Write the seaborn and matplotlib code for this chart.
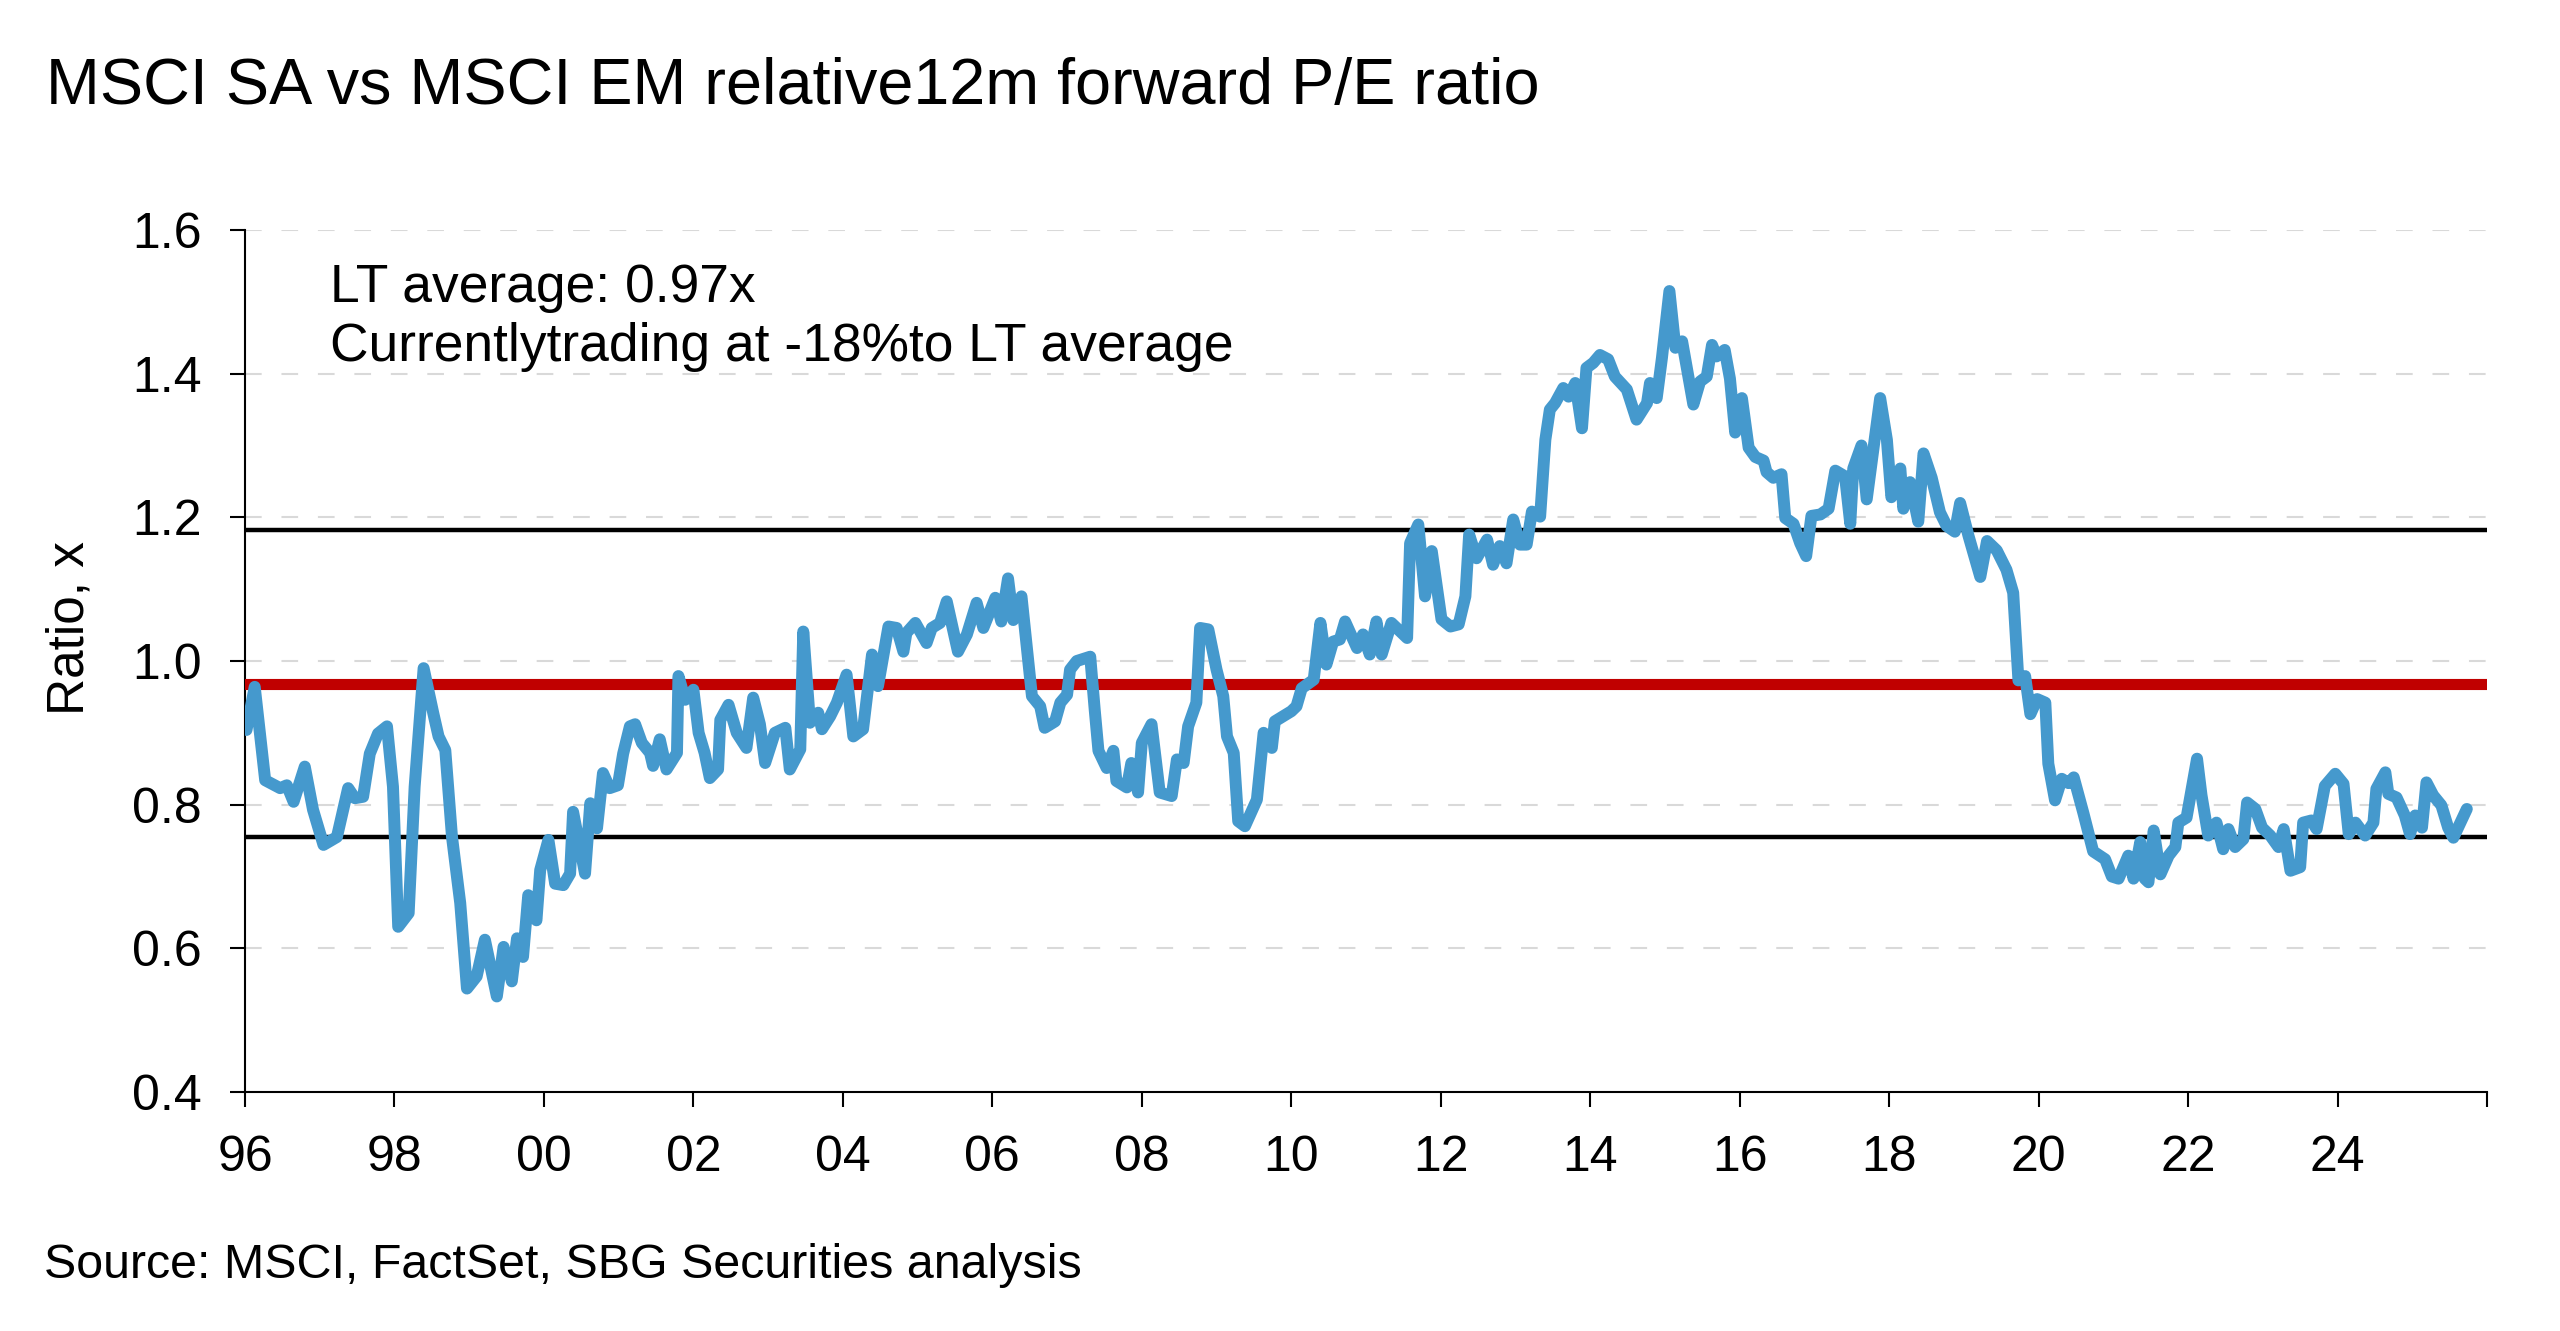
import matplotlib
matplotlib.use("Agg")
import matplotlib.pyplot as plt
import pandas as pd
import seaborn as sns

# ---------------- data ----------------
title = "MSCI SA vs MSCI EM relative12m forward P/E ratio"
note_lines = ["LT average: 0.97x", "Currentlytrading at -18%to LT average"]
source_text = "Source: MSCI, FactSet, SBG Securities analysis"
y_label = "Ratio, x"

year = [
    1996.02, 1996.13, 1996.27, 1996.47, 1996.56, 1996.65, 1996.80, 1996.91,
    1997.05, 1997.23, 1997.38, 1997.47, 1997.58, 1997.67, 1997.78, 1997.90,
    1997.98, 1998.05, 1998.19, 1998.27, 1998.39, 1998.52, 1998.59, 1998.68,
    1998.77, 1998.88, 1998.97, 1999.10, 1999.21, 1999.37, 1999.46, 1999.57,
    1999.64, 1999.72, 1999.79, 1999.90, 1999.95, 2000.06, 2000.15, 2000.26,
    2000.35, 2000.39, 2000.55, 2000.62, 2000.71, 2000.79, 2000.88, 2000.99,
    2001.06, 2001.15, 2001.22, 2001.31, 2001.42, 2001.46, 2001.55, 2001.64,
    2001.78, 2001.80, 2001.89, 2002.00, 2002.07, 2002.15, 2002.22, 2002.33,
    2002.36, 2002.47, 2002.58, 2002.71, 2002.80, 2002.89, 2002.96, 2003.09,
    2003.23, 2003.29, 2003.43, 2003.47, 2003.56, 2003.67, 2003.72, 2003.83,
    2003.92, 2004.05, 2004.14, 2004.27, 2004.39, 2004.47, 2004.61, 2004.72,
    2004.81, 2004.85, 2004.97, 2005.12, 2005.19, 2005.30, 2005.39, 2005.54,
    2005.66, 2005.79, 2005.88, 2006.04, 2006.12, 2006.21, 2006.28, 2006.39,
    2006.53, 2006.64, 2006.70, 2006.84, 2006.91, 2007.00, 2007.04, 2007.13,
    2007.31, 2007.37, 2007.42, 2007.53, 2007.62, 2007.66, 2007.80, 2007.86,
    2007.95, 2008.00, 2008.13, 2008.24, 2008.40, 2008.47, 2008.56, 2008.62,
    2008.73, 2008.78, 2008.89, 2009.00, 2009.09, 2009.14, 2009.23, 2009.29,
    2009.38, 2009.54, 2009.63, 2009.74, 2009.78, 2009.89, 2010.00, 2010.07,
    2010.14, 2010.30, 2010.39, 2010.47, 2010.56, 2010.65, 2010.72, 2010.88,
    2010.96, 2011.05, 2011.14, 2011.21, 2011.34, 2011.55, 2011.59, 2011.70,
    2011.79, 2011.88, 2012.01, 2012.13, 2012.24, 2012.33, 2012.38, 2012.48,
    2012.62, 2012.70, 2012.79, 2012.88, 2012.97, 2013.06, 2013.15, 2013.22,
    2013.33, 2013.40, 2013.46, 2013.53, 2013.64, 2013.71, 2013.80, 2013.89,
    2013.95, 2014.04, 2014.13, 2014.24, 2014.33, 2014.49, 2014.62, 2014.76,
    2014.80, 2014.89, 2014.96, 2015.06, 2015.14, 2015.23, 2015.38, 2015.47,
    2015.56, 2015.63, 2015.69, 2015.80, 2015.87, 2015.94, 2016.03, 2016.12,
    2016.21, 2016.32, 2016.36, 2016.45, 2016.56, 2016.61, 2016.72, 2016.81,
    2016.89, 2016.96, 2017.08, 2017.19, 2017.28, 2017.41, 2017.48, 2017.52,
    2017.63, 2017.70, 2017.88, 2017.97, 2018.03, 2018.15, 2018.19, 2018.28,
    2018.39, 2018.46, 2018.57, 2018.68, 2018.77, 2018.88, 2018.95, 2019.06,
    2019.22, 2019.31, 2019.44, 2019.57, 2019.66, 2019.73, 2019.82, 2019.89,
    2019.98, 2020.09, 2020.13, 2020.22, 2020.31, 2020.40, 2020.47, 2020.60,
    2020.73, 2020.89, 2020.98, 2021.07, 2021.20, 2021.27, 2021.36, 2021.42,
    2021.47, 2021.54, 2021.63, 2021.74, 2021.83, 2021.87, 2021.98, 2022.12,
    2022.18, 2022.27, 2022.38, 2022.47, 2022.54, 2022.63, 2022.74, 2022.79,
    2022.90, 2022.99, 2023.10, 2023.21, 2023.28, 2023.37, 2023.50, 2023.54,
    2023.65, 2023.72, 2023.83, 2023.97, 2024.08, 2024.15, 2024.24, 2024.37,
    2024.48, 2024.52, 2024.64, 2024.68, 2024.79, 2024.90, 2024.97, 2025.04,
    2025.13, 2025.19, 2025.28, 2025.39, 2025.48, 2025.55, 2025.73,
]

ratio = [
    0.904, 0.964, 0.834, 0.823, 0.827, 0.804, 0.853, 0.793,
    0.744, 0.755, 0.823, 0.809, 0.811, 0.871, 0.899, 0.909,
    0.825, 0.630, 0.649, 0.825, 0.990, 0.927, 0.895, 0.876,
    0.755, 0.663, 0.544, 0.561, 0.612, 0.533, 0.602, 0.554,
    0.614, 0.588, 0.674, 0.639, 0.709, 0.751, 0.690, 0.688,
    0.704, 0.790, 0.704, 0.802, 0.767, 0.844, 0.823, 0.827,
    0.871, 0.909, 0.912, 0.886, 0.872, 0.854, 0.891, 0.849,
    0.872, 0.979, 0.946, 0.960, 0.900, 0.872, 0.837, 0.849,
    0.918, 0.939, 0.900, 0.879, 0.949, 0.912, 0.858, 0.900,
    0.907, 0.849, 0.877, 1.041, 0.914, 0.928, 0.905, 0.923,
    0.942, 0.981, 0.895, 0.905, 1.009, 0.965, 1.048, 1.046,
    1.013, 1.039, 1.053, 1.025, 1.046, 1.053, 1.083, 1.013,
    1.037, 1.081, 1.046, 1.088, 1.055, 1.115, 1.057, 1.090,
    0.951, 0.937, 0.907, 0.916, 0.942, 0.953, 0.988, 1.000,
    1.006, 0.932, 0.875, 0.851, 0.875, 0.833, 0.824, 0.858,
    0.817, 0.886, 0.912, 0.817, 0.812, 0.863, 0.858, 0.909,
    0.942, 1.046, 1.044, 0.988, 0.951, 0.895, 0.872, 0.777,
    0.770, 0.807, 0.900, 0.879, 0.916, 0.923, 0.930, 0.937,
    0.962, 0.974, 1.053, 0.995, 1.027, 1.030, 1.055, 1.018,
    1.037, 1.009, 1.055, 1.009, 1.053, 1.032, 1.164, 1.190,
    1.090, 1.153, 1.058, 1.048, 1.051, 1.090, 1.176, 1.143,
    1.169, 1.134, 1.160, 1.136, 1.197, 1.162, 1.162, 1.208,
    1.201, 1.308, 1.350, 1.359, 1.380, 1.368, 1.387, 1.324,
    1.408, 1.415, 1.426, 1.420, 1.396, 1.378, 1.336, 1.359,
    1.387, 1.366, 1.422, 1.515, 1.436, 1.445, 1.357, 1.389,
    1.396, 1.440, 1.424, 1.433, 1.393, 1.318, 1.366, 1.297,
    1.284, 1.279, 1.263, 1.255, 1.260, 1.199, 1.191, 1.164,
    1.146, 1.202, 1.204, 1.212, 1.265, 1.257, 1.191, 1.268,
    1.300, 1.225, 1.366, 1.308, 1.228, 1.268, 1.212, 1.249,
    1.194, 1.289, 1.255, 1.207, 1.188, 1.180, 1.220, 1.175,
    1.117, 1.167, 1.154, 1.127, 1.095, 0.973, 0.979, 0.926,
    0.947, 0.942, 0.857, 0.806, 0.836, 0.830, 0.838, 0.788,
    0.735, 0.724, 0.700, 0.697, 0.729, 0.697, 0.748, 0.697,
    0.692, 0.764, 0.703, 0.729, 0.741, 0.775, 0.782, 0.864,
    0.813, 0.757, 0.775, 0.738, 0.766, 0.741, 0.752, 0.803,
    0.794, 0.768, 0.757, 0.741, 0.766, 0.708, 0.713, 0.775,
    0.778, 0.766, 0.826, 0.843, 0.829, 0.759, 0.775, 0.757,
    0.775, 0.822, 0.845, 0.815, 0.810, 0.785, 0.759, 0.785,
    0.768, 0.831, 0.813, 0.799, 0.768, 0.754, 0.794,
]

lt_average = 0.968
upper_band = 1.182
lower_band = 0.755

x_ticks = list(range(1996, 2027, 2))
x_tick_labels = ["96", "98", "00", "02", "04", "06", "08", "10", "12",
                 "14", "16", "18", "20", "22", "24", ""]
y_ticks = [0.4, 0.6, 0.8, 1.0, 1.2, 1.4, 1.6]
y_tick_labels = ["0.4", "0.6", "0.8", "1.0", "1.2", "1.4", "1.6"]

# ---------------- styling ----------------
sns.set_theme(style="white")
plt.rcParams["font.family"] = ["Liberation Sans", "DejaVu Sans"]
plt.rcParams["text.color"] = "black"
plt.rcParams["axes.labelcolor"] = "black"
plt.rcParams["xtick.color"] = "black"
plt.rcParams["ytick.color"] = "black"

W, H = 2560, 1331
fig = plt.figure(figsize=(W / 100, H / 100), dpi=100)
ax_left, ax_right, ax_top, ax_bottom = 245, 2487, 230, 1092
ax = fig.add_axes([ax_left / W, 1 - ax_bottom / H,
                   (ax_right - ax_left) / W, (ax_bottom - ax_top) / H])

df = pd.DataFrame({"year": year, "ratio": ratio})

blue = "#4599CD"
red = "#C00000"

ax.axhline(upper_band, color="black", linewidth=3.2, zorder=3)
ax.axhline(lower_band, color="black", linewidth=3.2, zorder=3)
ax.axhline(lt_average, color=red, linewidth=8.0, zorder=3,
           solid_capstyle="round")

n_before = len(ax.lines)
sns.lineplot(data=df, x="year", y="ratio", ax=ax, color=blue,
             linewidth=8.6, zorder=5, sort=False)
for ln in ax.lines[n_before:]:
    ln.set_linewidth(8.6)
    ln.set_solid_capstyle("round")
    ln.set_solid_joinstyle("round")
    ln.set_zorder(5)

ax.set_xlim(1996, 2026)
ax.set_ylim(0.4, 1.6)
ax.set_xticks(x_ticks)
ax.set_xticklabels(x_tick_labels)
ax.set_yticks(y_ticks)
ax.set_yticklabels(y_tick_labels)
ax.set_xlabel("")
ax.set_ylabel("")

ax.tick_params(axis="both", which="major", labelsize=36, colors="black",
               labelcolor="black", length=11, width=1.5, direction="out",
               pad=20, bottom=True, left=True)

for side in ["top", "right"]:
    ax.spines[side].set_visible(False)
for side in ["left", "bottom"]:
    ax.spines[side].set_visible(True)
    ax.spines[side].set_color("black")
    ax.spines[side].set_linewidth(1.5)

ax.yaxis.grid(True, color="#D9D9D9", linestyle=(0, (8, 9.5)), linewidth=1.5)
ax.xaxis.grid(False)
ax.set_axisbelow(True)
ax.set_facecolor("white")
fig.patch.set_facecolor("white")

# ---------------- texts ----------------
fig.text(46 / W, 1 - 104 / H, title, fontsize=46.6, ha="left",
         va="baseline", color="black")
fig.text(330 / W, 1 - 302 / H, note_lines[0], fontsize=38.4, ha="left",
         va="baseline", color="black")
fig.text(330 / W, 1 - 361 / H, note_lines[1], fontsize=38.4, ha="left",
         va="baseline", color="black")
fig.text(70 / W, 1 - 628 / H, y_label, fontsize=37, rotation=90,
         ha="center", va="center", color="black")
fig.text(44 / W, 1 - 1278 / H, source_text, fontsize=34.8, ha="left",
         va="baseline", color="black")

fig.savefig("out.png", dpi=100, facecolor="white")
